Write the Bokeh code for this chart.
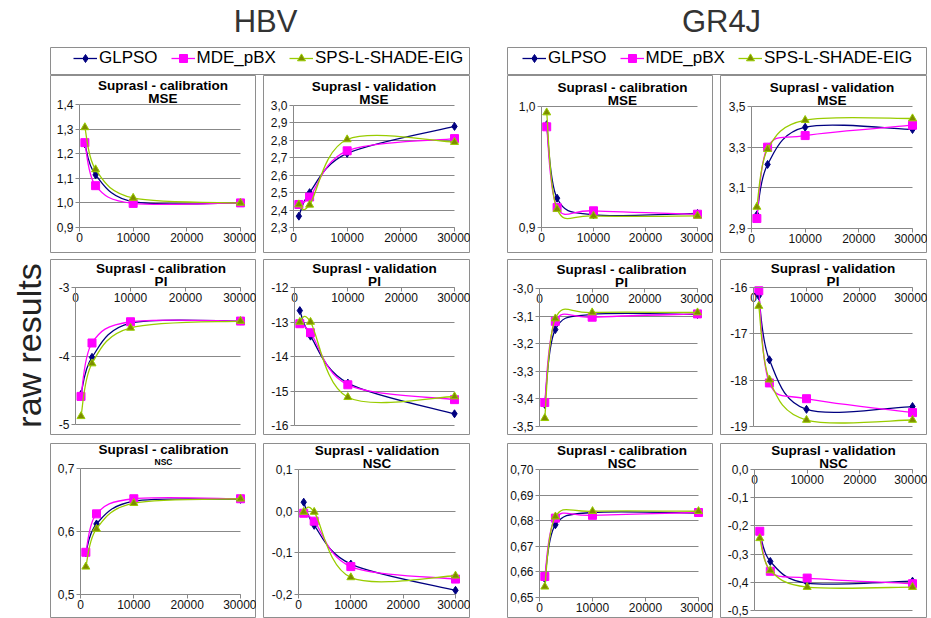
from bokeh.plotting import figure
from bokeh.models import (Range1d, LinearAxis, FixedTicker, CustomJSTickFormatter,
                          Grid, Label, Legend, LegendItem, Spacer, ColumnDataSource)
from bokeh.layouts import row, column
from bokeh.embed import file_html
from bokeh.resources import INLINE

# ---------------- data ----------------
evaluations = [1000, 3000, 10000, 30000]
x_tick_values = [0, 10000, 20000, 30000]
series_names = ["GLPSO", "MDE_pBX", "SPS-L-SHADE-EIG"]

hbv_cal_mse_glpso = [1.240, 1.114, 1.005, 1.000]
hbv_cal_mse_mde = [1.245, 1.070, 0.998, 1.000]
hbv_cal_mse_sps = [1.307, 1.136, 1.020, 1.000]

hbv_val_mse_glpso = [2.365, 2.500, 2.725, 2.880]
hbv_val_mse_mde = [2.432, 2.475, 2.740, 2.810]
hbv_val_mse_sps = [2.432, 2.430, 2.805, 2.790]

hbv_cal_pi_glpso = [-4.56, -4.02, -3.52, -3.49]
hbv_cal_pi_mde = [-4.59, -3.81, -3.50, -3.49]
hbv_cal_pi_sps = [-4.88, -4.11, -3.59, -3.49]

hbv_val_pi_glpso = [-12.67, -13.41, -14.77, -15.66]
hbv_val_pi_mde = [-13.05, -13.31, -14.82, -15.25]
hbv_val_pi_sps = [-13.00, -13.00, -15.18, -15.16]

hbv_cal_nsc_glpso = [0.566, 0.612, 0.648, 0.651]
hbv_cal_nsc_mde = [0.567, 0.628, 0.652, 0.652]
hbv_cal_nsc_sps = [0.544, 0.604, 0.645, 0.652]

hbv_val_nsc_glpso = [0.0215, -0.034, -0.127, -0.190]
hbv_val_nsc_mde = [-0.005, -0.024, -0.133, -0.163]
hbv_val_nsc_sps = [-0.002, -0.002, -0.159, -0.155]

gr4j_cal_mse_glpso = [0.9850, 0.9242, 0.9105, 0.9116]
gr4j_cal_mse_mde = [0.9832, 0.9165, 0.9138, 0.9110]
gr4j_cal_mse_sps = [0.9950, 0.9152, 0.9096, 0.9096]

gr4j_val_mse_glpso = [2.967, 3.215, 3.398, 3.387]
gr4j_val_mse_mde = [2.949, 3.300, 3.357, 3.408]
gr4j_val_mse_sps = [3.006, 3.290, 3.433, 3.441]

gr4j_cal_pi_glpso = [-3.420, -3.149, -3.094, -3.094]
gr4j_cal_pi_mde = [-3.413, -3.119, -3.104, -3.092]
gr4j_cal_pi_sps = [-3.470, -3.109, -3.087, -3.087]

gr4j_val_pi_glpso = [-16.18, -17.56, -18.63, -18.57]
gr4j_val_pi_mde = [-16.07, -18.06, -18.40, -18.70]
gr4j_val_pi_sps = [-16.40, -17.99, -18.86, -18.86]

gr4j_cal_nsc_glpso = [0.6573, 0.6784, 0.6832, 0.6830]
gr4j_cal_nsc_mde = [0.6582, 0.6810, 0.6821, 0.6832]
gr4j_cal_nsc_sps = [0.6542, 0.6816, 0.6837, 0.6837]

gr4j_val_nsc_glpso = [-0.222, -0.326, -0.403, -0.396]
gr4j_val_nsc_mde = [-0.219, -0.361, -0.385, -0.405]
gr4j_val_nsc_sps = [-0.244, -0.358, -0.417, -0.417]

# y tick values per panel
hbv_cal_mse_ticks = [0.9, 1.0, 1.1, 1.2, 1.3, 1.4]
hbv_val_mse_ticks = [2.3, 2.4, 2.5, 2.6, 2.7, 2.8, 2.9, 3.0]
hbv_cal_pi_ticks = [-5, -4, -3]
hbv_val_pi_ticks = [-16, -15, -14, -13, -12]
hbv_cal_nsc_ticks = [0.5, 0.6, 0.7]
hbv_val_nsc_ticks = [-0.2, -0.1, 0.0, 0.1]
gr4j_cal_mse_ticks = [0.9, 1.0]
gr4j_val_mse_ticks = [2.9, 3.1, 3.3, 3.5]
gr4j_cal_pi_ticks = [-3.5, -3.4, -3.3, -3.2, -3.1, -3.0]
gr4j_val_pi_ticks = [-19, -18, -17, -16]
gr4j_cal_nsc_ticks = [0.65, 0.66, 0.67, 0.68, 0.69, 0.70]
gr4j_val_nsc_ticks = [-0.5, -0.4, -0.3, -0.2, -0.1, 0.0]

# ---------------- styles ----------------
FONT = "Liberation Sans"
GRID = "#888888"
BOX = "#8e8e8e"
LINE_COLORS = ["#000080", "#ff00ff", "#99cc00"]
MARKERS = ["diamond", "square", "triangle"]
MARKER_FILL = ["#000080", "#ff00ff", "#7d8c00"]
MARKER_LINE = ["#000080", "#ff00ff", "#99cc00"]
MARKER_SIZE = [8, 8, 8]
HAS_CROSS = "cross_bounds" in Grid.properties()


def bezier_segments(xs, ys):
    n = len(xs)
    seg = dict(x0=[], y0=[], x1=[], y1=[], cx0=[], cy0=[], cx1=[], cy1=[])
    for i in range(n - 1):
        xp, yp = (xs[i - 1], ys[i - 1]) if i > 0 else (xs[i], ys[i])
        xn, yn = (xs[i + 2], ys[i + 2]) if i + 2 < n else (xs[i + 1], ys[i + 1])
        seg["x0"].append(xs[i]); seg["y0"].append(ys[i])
        seg["x1"].append(xs[i + 1]); seg["y1"].append(ys[i + 1])
        seg["cx0"].append(xs[i] + (xs[i + 1] - xp) / 6.0)
        seg["cy0"].append(ys[i] + (ys[i + 1] - yp) / 6.0)
        seg["cx1"].append(xs[i + 1] - (xn - xs[i]) / 6.0)
        seg["cy1"].append(ys[i + 1] - (yn - ys[i]) / 6.0)
    return seg


def draw_series(p, series):
    rs = []
    for k, ys in enumerate(series):
        seg = ColumnDataSource(bezier_segments(evaluations, ys))
        r1 = p.bezier(x0="x0", y0="y0", x1="x1", y1="y1", cx0="cx0", cy0="cy0",
                      cx1="cx1", cy1="cy1", source=seg,
                      line_color=LINE_COLORS[k], line_width=1.3)
        r2 = p.scatter(evaluations, ys, marker=MARKERS[k], size=MARKER_SIZE[k],
                       fill_color=MARKER_FILL[k], line_color=MARKER_LINE[k],
                       line_width=1)
        rs.append((r1, r2))
    return rs


def make_panel(box, ticks, decimals, series, title1, title2, top_axis,
               title_dx=0, title2_size="13.5px"):
    W, H, L, R, T, B = box
    xmin, xmax = x_tick_values[0], x_tick_values[-1]
    ymin, ymax = ticks[0], ticks[-1]
    ux = (xmax - xmin) / (W - L - R)
    uy = (ymax - ymin) / (H - T - B)
    p = figure(width=W, height=H,
               x_range=Range1d(xmin - L * ux, xmax + R * ux),
               y_range=Range1d(ymin - B * uy, ymax + T * uy),
               x_axis_type=None, y_axis_type=None,
               toolbar_location=None, output_backend="svg", min_border=0,
               outline_line_color=BOX, outline_line_width=1,
               border_fill_color="white", background_fill_color="white")

    fmt = CustomJSTickFormatter(args=dict(d=decimals),
                                code="return tick.toFixed(d).replace('.', ',');")
    yax = LinearAxis(ticker=FixedTicker(ticks=ticks), formatter=fmt,
                     fixed_location=xmin, bounds=(ymin, ymax),
                     axis_line_color=GRID, major_tick_line_color=GRID,
                     major_tick_out=4, major_tick_in=0,
                     minor_tick_out=0, minor_tick_in=0,
                     major_label_standoff=2,
                     major_label_text_font=FONT,
                     major_label_text_font_size="12px",
                     major_label_text_color="#111111")
    p.add_layout(yax, "left")
    xax = LinearAxis(ticker=FixedTicker(ticks=x_tick_values),
                     fixed_location=(ymax if top_axis else ymin),
                     bounds=(xmin, xmax),
                     axis_line_color=GRID, major_tick_line_color=GRID,
                     major_tick_out=4, major_tick_in=0,
                     minor_tick_out=0, minor_tick_in=0,
                     major_label_standoff=1,
                     major_label_text_font=FONT,
                     major_label_text_font_size="12px",
                     major_label_text_color="#111111")
    p.add_layout(xax, "below")
    if HAS_CROSS:
        grid = Grid(dimension=1, ticker=FixedTicker(ticks=ticks),
                    grid_line_color=GRID, grid_line_width=1)
        grid.cross_bounds = (xmin, xmax)
        p.add_layout(grid)
    else:
        p.segment(x0=xmin, x1=xmax, y0=ticks, y1=ticks, line_color=GRID,
                  line_width=1, level="underlay")

    draw_series(p, series)

    xc = (xmin + xmax) / 2
    p.add_layout(Label(x=xc, y=ymax, x_offset=title_dx, y_offset=19, text=title1,
                       text_align="center", text_baseline="middle",
                       text_font=FONT, text_font_style="bold",
                       text_font_size="13.5px", text_color="#000000"))
    p.add_layout(Label(x=xc, y=ymax, x_offset=title_dx, y_offset=6.5, text=title2,
                       text_align="center", text_baseline="middle",
                       text_font=FONT, text_font_style="bold",
                       text_font_size=title2_size, text_color="#000000"))
    return p


def make_legend(x0, series):
    p = figure(width=420, height=28, x_range=Range1d(0, 1), y_range=Range1d(0, 1),
               x_axis_type=None, y_axis_type=None, toolbar_location=None,
               output_backend="svg", min_border=0,
               outline_line_color=BOX, outline_line_width=1,
               border_fill_color="white")
    rs = draw_series(p, series)
    items = []
    for k, name in enumerate(series_names):
        r1, r2 = rs[k]
        r1.visible = False
        r2.visible = False
        items.append(LegendItem(label=name, renderers=[r1, r2]))
    leg = Legend(items=items, orientation="horizontal", location=(x0, 7),
                 border_line_color=None, background_fill_alpha=0,
                 label_text_font=FONT, label_text_font_size="17px",
                 label_text_color="#000000",
                 glyph_width=24, glyph_height=20, label_height=20,
                 label_standoff=2, spacing=13, padding=0, margin=0)
    p.add_layout(leg)
    return p


def make_title(text, xc):
    p = figure(width=420, height=47, x_range=Range1d(0, 420), y_range=Range1d(0, 47),
               x_axis_type=None, y_axis_type=None, toolbar_location=None,
               output_backend="svg", min_border=0, outline_line_color=None,
               border_fill_color="white")
    p.add_layout(Label(x=xc, y=26, text=text, text_align="center",
                       text_baseline="middle", text_font=FONT,
                       text_font_size="31px", text_color="#333333"))
    return p


# ---- panels ----
p1 = make_panel((206, 178, 29, 16, 29, 26), hbv_cal_mse_ticks, 1,
                [hbv_cal_mse_glpso, hbv_cal_mse_mde, hbv_cal_mse_sps],
                "Suprasl - calibration", "MSE", False, title_dx=3)
p2 = make_panel((207, 178, 30, 16, 30, 26), hbv_val_mse_ticks, 1,
                [hbv_val_mse_glpso, hbv_val_mse_mde, hbv_val_mse_sps],
                "Suprasl - validation", "MSE", False)
p3 = make_panel((206, 176, 25, 16, 28, 11), hbv_cal_pi_ticks, 0,
                [hbv_cal_pi_glpso, hbv_cal_pi_mde, hbv_cal_pi_sps],
                "Suprasl - calibration", "PI", True, title_dx=3)
p4 = make_panel((207, 176, 31, 16, 28, 10), hbv_val_pi_ticks, 0,
                [hbv_val_pi_glpso, hbv_val_pi_mde, hbv_val_pi_sps],
                "Suprasl - validation", "PI", True)
p5 = make_panel((206, 175, 30, 16, 25, 24), hbv_cal_nsc_ticks, 1,
                [hbv_cal_nsc_glpso, hbv_cal_nsc_mde, hbv_cal_nsc_sps],
                "Suprasl - calibration", "NSC", False, title_dx=3, title2_size="8.5px")
p6 = make_panel((207, 175, 35, 15, 26, 24), hbv_val_nsc_ticks, 1,
                [hbv_val_nsc_glpso, hbv_val_nsc_mde, hbv_val_nsc_sps],
                "Suprasl - validation", "NSC", False)
p7 = make_panel((206, 178, 34, 16, 31, 26), gr4j_cal_mse_ticks, 1,
                [gr4j_cal_mse_glpso, gr4j_cal_mse_mde, gr4j_cal_mse_sps],
                "Suprasl - calibration", "MSE", False, title_dx=3)
p8 = make_panel((207, 178, 31, 15, 31, 25), gr4j_val_mse_ticks, 1,
                [gr4j_val_mse_glpso, gr4j_val_mse_mde, gr4j_val_mse_sps],
                "Suprasl - validation", "MSE", False)
p9 = make_panel((206, 176, 32, 16, 29, 9), gr4j_cal_pi_ticks, 1,
                [gr4j_cal_pi_glpso, gr4j_cal_pi_mde, gr4j_cal_pi_sps],
                "Suprasl - calibration", "PI", True, title_dx=3)
p10 = make_panel((207, 176, 33, 15, 28, 9), gr4j_val_pi_ticks, 0,
                 [gr4j_val_pi_glpso, gr4j_val_pi_mde, gr4j_val_pi_sps],
                 "Suprasl - validation", "PI", True)
p11 = make_panel((206, 175, 32, 15, 26, 21), gr4j_cal_nsc_ticks, 2,
                 [gr4j_cal_nsc_glpso, gr4j_cal_nsc_mde, gr4j_cal_nsc_sps],
                 "Suprasl - calibration", "NSC", False, title_dx=3)
p12 = make_panel((207, 175, 34, 15, 26, 8), gr4j_val_nsc_ticks, 1,
                 [gr4j_val_nsc_glpso, gr4j_val_nsc_mde, gr4j_val_nsc_sps],
                 "Suprasl - validation", "NSC", True)

# ---- side label ----
side = figure(width=50, height=618, x_range=Range1d(0, 50), y_range=Range1d(0, 618),
              x_axis_type=None, y_axis_type=None, toolbar_location=None,
              output_backend="svg", min_border=0, outline_line_color=None,
              border_fill_color="white")
side.add_layout(Label(x=28, y=273, text="raw results", angle=1.5707963,
                      text_align="center", text_baseline="alphabetic",
                      text_font=FONT, text_font_size="34px", text_color="#222222"))


def block(title, xc, legx, legend_series, panels):
    a, b, c, d, e, f = panels
    return column(
        make_title(title, xc),
        make_legend(legx, legend_series),
        row(a, Spacer(width=7, height=178), b),
        Spacer(width=420, height=6),
        row(c, Spacer(width=7, height=176), d),
        Spacer(width=420, height=8),
        row(e, Spacer(width=7, height=175), f),
    )


hbv = block("HBV", 215, 23, [hbv_cal_mse_glpso, hbv_cal_mse_mde, hbv_cal_mse_sps],
            [p1, p2, p3, p4, p5, p6])
gr4j = block("GR4J", 214, 15, [gr4j_cal_mse_glpso, gr4j_cal_mse_mde, gr4j_cal_mse_sps],
             [p7, p8, p9, p10, p11, p12])

layout = row(side, hbv, Spacer(width=37, height=618), gr4j, Spacer(width=4, height=618))

open("out.html", "w").write(file_html(layout, INLINE))
